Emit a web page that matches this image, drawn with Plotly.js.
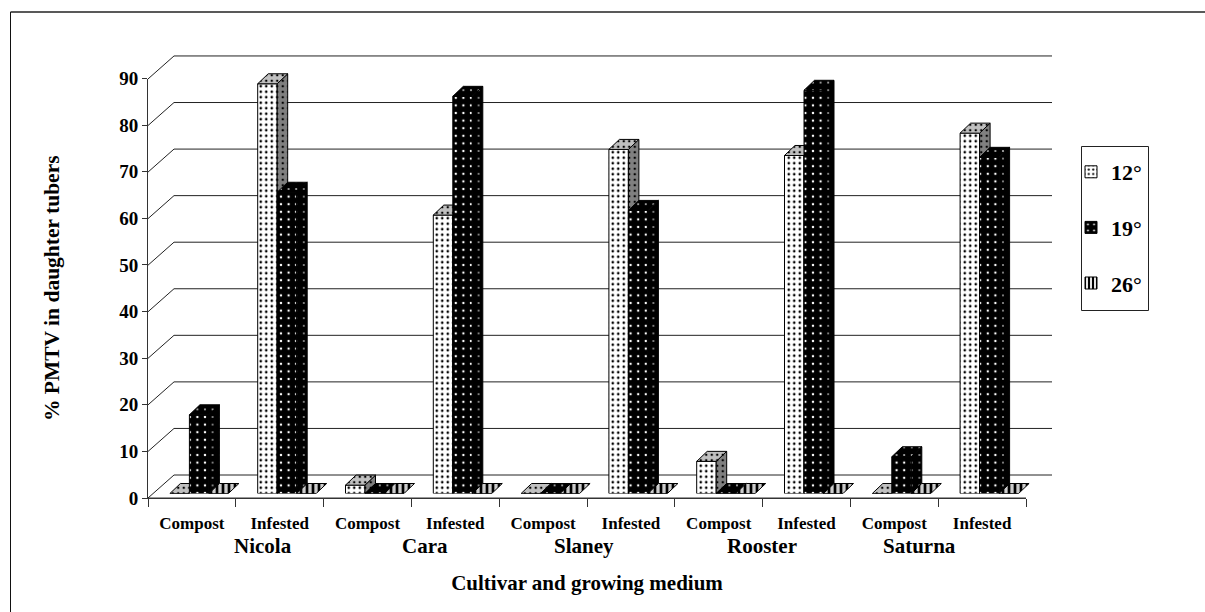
<!DOCTYPE html>
<html><head><meta charset="utf-8">
<script src="https://cdn.plot.ly/plotly-3.0.1.min.js"></script>
<style>html,body{margin:0;padding:0;background:#fff}</style></head>
<body><div id="chart" style="width:1205px;height:612px"></div>
<script>
const mediums = ["Compost","Infested","Compost","Infested","Compost","Infested","Compost","Infested","Compost","Infested"];
const cultivars = ["Nicola","Cara","Slaney","Rooster","Saturna"];
const series12 = [0,88,1.8,59.8,0,73.9,6.9,72.6,0,77.4];
const series19 = [16.9,64.7,0,85.3,0,60.8,0,86.6,7.9,72.2];
const series26 = [0,0,0,0,0,0,0,0,0,0];
const seriesNames = ["12°","19°","26°"];
const yTicks = [0,10,20,30,40,50,60,70,80,90];

// layout constants (pixels)
const W=1205,H=612,fx=v=>v/W,fy=v=>1-v/H;
const catPx=87.8, valPx=4.656;
const barW=19.5, barStart=21.9, depthX=10.5/catPx, depthY=10/valPx;
const barUnit=barW/catPx;
const cultivarCentres=[263,425,584,762,919];
const FONT="'Liberation Serif', 'Times New Roman', serif";

const styles=[
 {front:{bg:'#ffffff',fg:'#000',shape:'.',size:5.5,sol:0.18},top:{bg:'#c0c0c0',fg:'#000',shape:'.',size:5.5,sol:0.16},side:{bg:'#808080',fg:'#000',shape:'.',size:5.5,sol:0.16}},
 {front:{bg:'#000000',fg:'#fff',shape:'.',size:7.6,sol:0.08},top:{bg:'#000000',fg:'#bbb',shape:'.',size:7.6,sol:0.06},side:{bg:'#000000',fg:'#999',shape:'.',size:7.6,sol:0.06}},
 {front:{bg:'#ffffff',fg:'#000',shape:'|',size:5,sol:0.55},top:{bg:'#cccccc',fg:'#000',shape:'|',size:6,sol:0.45},side:{bg:'#808080',fg:'#000',shape:'|',size:6,sol:0.45}}
];
const pat=s=>({shape:s.shape,bgcolor:s.bg,fgcolor:s.fg,size:s.size,solidity:s.sol,fillmode:'replace'});

const traces=[];
// floor front edge on the visible axes
traces.push({type:'scatter',mode:'lines',x:[0,10],y:[0,0],xaxis:'x',yaxis:'y',cliponaxis:false,showlegend:false,hoverinfo:'skip',line:{color:'#333',width:1}});
// left-hand diagonals and back wall gridlines, in the wall subplot's scale
const dx=[],dy=[];
const backX=26/catPx, backY=23/valPx;
yTicks.forEach(t=>{dx.push(0,backX,10+backX,null);dy.push(t,t+backY,t+backY,null);});
traces.push({type:'scatter',mode:'lines',x:dx,y:dy,xaxis:'x2',yaxis:'y2',cliponaxis:false,showlegend:false,hoverinfo:'skip',line:{color:'#222',width:1}});

[series12,series19,series26].forEach((vals,s)=>{
  const ax=s+3, xa='x'+ax, ya='y'+ax;
  const left=vals.map((v,i)=>i+(barStart+barW*s)/catPx);
  const centre=left.map(l=>l+barUnit/2);
  traces.push({type:'bar',name:seriesNames[s],x:centre,y:vals,width:barUnit,xaxis:xa,yaxis:ya,cliponaxis:false,
    legendgroup:'g'+s,
    marker:{color:styles[s].front.bg,pattern:pat(styles[s].front),line:{color:'#000',width:1}},hoverinfo:'y'});
  const tx=[],ty=[],sx=[],sy=[];
  vals.forEach((v,i)=>{
    const a=left[i],b=a+barUnit;
    tx.push(a,a+depthX,b+depthX,b,a,null); ty.push(v,v+depthY,v+depthY,v,v,null);
    if(v>0){ sx.push(b,b+depthX,b+depthX,b,b,null); sy.push(v,v+depthY,depthY,0,v,null); }
  });
  traces.push({type:'scatter',mode:'lines',x:sx,y:sy,fill:'toself',fillcolor:styles[s].side.bg,fillpattern:pat(styles[s].side),
    xaxis:xa,yaxis:ya,cliponaxis:false,showlegend:false,hoverinfo:'skip',line:{color:'#000',width:1}});
  traces.push({type:'scatter',mode:'lines',x:tx,y:ty,fill:'toself',fillcolor:styles[s].top.bg,fillpattern:pat(styles[s].top),
    xaxis:xa,yaxis:ya,cliponaxis:false,showlegend:false,hoverinfo:'skip',line:{color:'#000',width:1}});
});

const barX=[fx(148),fx(1052)], barY=[fy(493.5),fy(56)];
const barXR=[0,(1052-148)/catPx], barYR=[0,(493.5-56)/valPx];
const layout={
  width:W,height:H,margin:{l:0,r:0,t:0,b:0},autosize:false,
  paper_bgcolor:'#fff',plot_bgcolor:'rgba(0,0,0,0)',barmode:'overlay',
  font:{family:FONT,color:'#000'},
  xaxis:{domain:[fx(148),fx(1026)],range:[0,10],anchor:'y',tickmode:'array',
    tickvals:mediums.map((m,i)=>i+0.5),ticktext:mediums,ticks:'',ticklen:0,tickangle:0,ticklabelstandoff:10,
    tickfont:{size:17,family:FONT,weight:'bold'},showgrid:false,zeroline:false,showline:true,linecolor:'#333',linewidth:1,
    minor:{tickmode:'array',tickvals:[0,1,2,3,4,5,6,7,8,9,10],ticks:'outside',ticklen:8,tickcolor:'#333',tickwidth:1,showgrid:false},
    title:{text:'Cultivar and growing medium',font:{size:21,family:FONT,weight:'bold'},standoff:42}},
  yaxis:{domain:[fy(498),fy(78.5)],range:[0,90],anchor:'x',tickmode:'array',tickvals:yTicks,ticks:'outside',ticklen:5,tickcolor:'#333',
    tickfont:{size:19,family:FONT,weight:'bold'},showgrid:false,zeroline:false,showline:true,linecolor:'#333',linewidth:1,
    title:{text:'% PMTV in daughter tubers',font:{size:21.5,family:FONT,weight:'bold'},standoff:53}},
  xaxis2:{domain:[fx(148),fx(1056)],range:[0,908/catPx],anchor:'y2',visible:false,fixedrange:true},
  yaxis2:{domain:[fy(498),fy(52)],range:[0,446/valPx],anchor:'x2',visible:false,fixedrange:true},
  legend:{x:fx(1081),xanchor:'left',y:fy(151),yanchor:'top',bgcolor:'rgba(0,0,0,0)',borderwidth:0,
    font:{size:22,family:FONT,weight:'bold'},tracegroupgap:24,indentation:-10,traceorder:'grouped'},
  shapes:[
    {type:'line',xref:'paper',yref:'paper',x0:fx(10.5),x1:fx(10.5),y0:0,y1:fy(12),line:{color:'#111',width:1}},
    {type:'line',xref:'paper',yref:'paper',x0:fx(10.5),x1:1,y0:fy(12),y1:fy(12),line:{color:'#222',width:1.5}},
    {type:'rect',xref:'paper',yref:'paper',x0:fx(1081.5),x1:fx(1148.5),y0:fy(310.5),y1:fy(146.5),line:{color:'#222',width:1},fillcolor:'#fff',layer:'below'}
  ],
  annotations:cultivars.map((c,i)=>({text:c,xref:'paper',yref:'paper',x:fx(cultivarCentres[i]),y:fy(546),xanchor:'center',yanchor:'middle',showarrow:false,font:{size:21,family:FONT,weight:'bold'}}))
};
[3,4,5].forEach(n=>{
  layout['xaxis'+n]={domain:barX,range:barXR,anchor:'y'+n,visible:false,fixedrange:true};
  layout['yaxis'+n]={domain:barY,range:barYR,anchor:'x'+n,visible:false,fixedrange:true};
});
Plotly.newPlot('chart',traces,layout,{displayModeBar:false,staticPlot:true});
</script></body></html>
